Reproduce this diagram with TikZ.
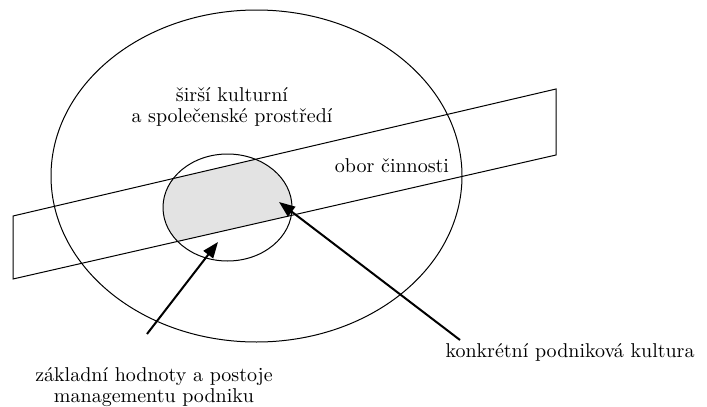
\documentclass[tikz,border=0pt]{standalone}
\usetikzlibrary{arrows.meta}

\begin{document}
\begin{tikzpicture}[x=0.5pt, y=-0.5pt, line width=0.5pt,
    note/.style={font={\fontsize{10}{10.5}\selectfont}, align=center, inner sep=0pt},
    pointer/.style={line width=1pt, -{Triangle[length=8pt,width=6pt]}}]
  \useasboundingbox (0,0) rectangle (707,407);
  % band of the field of activity
  \coordinate (bandTL) at (13,216);
  \coordinate (bandTR) at (556,89);
  \coordinate (bandBR) at (556,155);
  \coordinate (bandBL) at (13,279);
  % shaded part of the inner circle
  \begin{scope}
    \clip (bandTL) -- (bandTR) -- (bandBR) -- (bandBL) -- cycle;
    \fill[gray!22] (227.5,207.5) ellipse [x radius=64.5, y radius=53.5];
  \end{scope}
  \draw (256.5,176) ellipse [x radius=205.5, y radius=166];
  \draw (227.5,207.5) ellipse [x radius=64.5, y radius=53.5];
  \draw (bandTL) -- (bandTR) -- (bandBR) -- (bandBL) -- cycle;

  \node[note] (outer) at (232,107) {širší kulturní\\a společenské prostředí};
  \node[note] (field) at (392,166) {obor činnosti};
  \node[note, anchor=west] (culture) at (445,352) {konkrétní podniková kultura};
  \node[note] (values) at (154,387) {základní hodnoty a postoje\\managementu podniku};

  \coordinate (cultureTail) at (460,340);
  \coordinate (cultureTip) at (279,202);
  \coordinate (valuesTail) at (147,334);
  \coordinate (valuesTip) at (218,242);
  \draw[pointer] (cultureTail) -- (cultureTip);
  \draw[pointer] (valuesTail) -- (valuesTip);
\end{tikzpicture}
\end{document}
